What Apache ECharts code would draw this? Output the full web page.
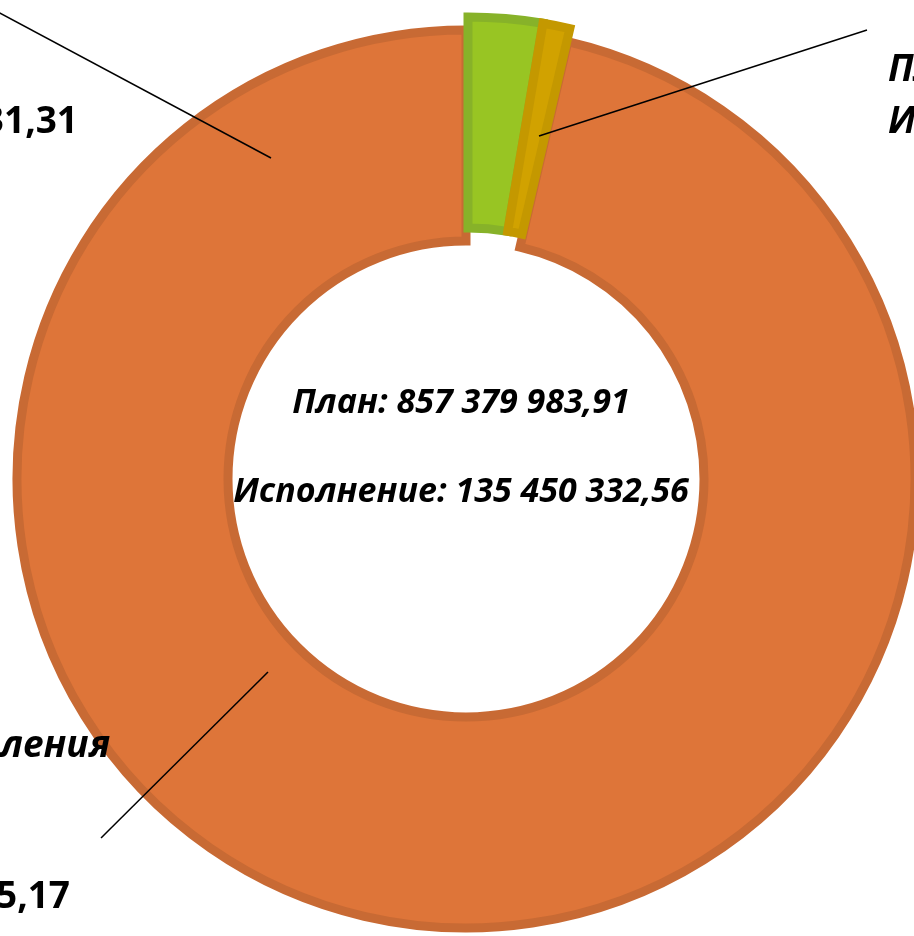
<!DOCTYPE html>
<html>
<head>
<meta charset="utf-8">
<title>План и исполнение доходов</title>
<script src="https://cdn.jsdelivr.net/npm/echarts@6/dist/echarts.min.js"></script>
<style>
html, body { margin: 0; padding: 0; background: #fff; }
#main { width: 914px; height: 936px; }
</style>
</head>
<body>
<div id="main"></div>
<script>
// данные
var categories = ['Налоговые доходы', 'Неналоговые доходы', 'Безвозмездные поступления'];
var planValues = [22895400.00, 8314600.00, 826169983.91];
var execValues = [10213231.31, 4421336.08, 120815765.17];
var showName = [false, false, true];
var exploded = [true, true, false];

var sliceColors = ['#98C523', '#D1A200', '#DE7539'];
var borderColors = ['#87B229', '#C49800', '#C86A34'];

var FAMILY = '"Open Sans", "Noto Sans", sans-serif';
var LABEL_SIZE = 37;
var CENTER_SIZE = 34;

var CENTER = [466, 479];
var RADIUS = [238, 449];
var EXPLODE = [2, -13];

// положение подписей (край последней строки, верх блока)
var labelAnchor = [
    { right: 78, top: 44, lh: 52 },
    { left: 888, top: 44, lh: 52 },
    { right: 70, top: 709, lh: 75.5 }
];
var leader = [
    [[-6, 10], [271, 158]],
    [[867, 30], [539, 136]],
    [[101, 838], [268, 672]]
];

function fmt(v) {
    var s = v.toFixed(2).split('.');
    return s[0].replace(/\B(?=(\d{3})+(?!\d))/g, ' ') + ',' + s[1];
}
function sum(arr) {
    var t = 0;
    for (var i = 0; i < arr.length; i++) t += arr[i];
    return t;
}

var ctx = document.createElement('canvas').getContext('2d');
function measure(text, font) {
    ctx.font = font;
    return ctx.measureText(text).width;
}
var italicFont = 'italic bold ' + LABEL_SIZE + 'px ' + FAMILY;
var boldFont = 'bold ' + LABEL_SIZE + 'px ' + FAMILY;
function lastLineWidth(i) {
    return measure('Исполнение: ', italicFont) + measure(fmt(execValues[i]), boldFont);
}

var hidden = { color: 'rgba(0,0,0,0)', borderColor: 'rgba(0,0,0,0)', borderWidth: 0 };

var baseData = [];     // неотодвинутые сектора
var explodedData = []; // отодвинутые сектора
var labelData = [];    // только подписи и выноски
for (var i = 0; i < categories.length; i++) {
    var style = { color: sliceColors[i], borderColor: borderColors[i] };
    baseData.push({ name: categories[i], value: planValues[i], itemStyle: exploded[i] ? hidden : style });
    explodedData.push({ name: categories[i], value: planValues[i], itemStyle: exploded[i] ? style : hidden });
    labelData.push({
        name: categories[i],
        value: planValues[i],
        itemStyle: hidden,
        label: {
            rich: {
                n: { fontStyle: 'italic', fontWeight: 'bold', fontSize: LABEL_SIZE, fontFamily: FAMILY, color: '#000', lineHeight: labelAnchor[i].lh },
                v: { fontWeight: 'bold', fontSize: LABEL_SIZE, fontFamily: FAMILY, color: '#000', lineHeight: labelAnchor[i].lh }
            }
        }
    });
}

var myChart = echarts.init(document.getElementById('main'));
var option = {
    animation: false,
    backgroundColor: '#fff',
    graphic: [
        {
            type: 'text', x: 461, y: 403,
            style: {
                text: 'План: ' + fmt(sum(planValues)),
                font: 'italic bold ' + CENTER_SIZE + 'px ' + FAMILY,
                fill: '#000', textAlign: 'center', textVerticalAlign: 'middle'
            }
        },
        {
            type: 'text', x: 461, y: 492,
            style: {
                text: 'Исполнение: ' + fmt(sum(execValues)),
                font: 'italic bold ' + CENTER_SIZE + 'px ' + FAMILY,
                fill: '#000', textAlign: 'center', textVerticalAlign: 'middle'
            }
        }
    ],
    series: [
        {
            type: 'pie',
            z: 2,
            center: CENTER,
            radius: RADIUS,
            startAngle: 90,
            silent: true,
            itemStyle: { borderWidth: 9, borderJoin: 'miter' },
            emphasis: { disabled: true },
            label: { show: false },
            labelLine: { show: false },
            data: baseData
        },
        {
            type: 'pie',
            z: 2,
            center: [CENTER[0] + EXPLODE[0], CENTER[1] + EXPLODE[1]],
            radius: RADIUS,
            startAngle: 90,
            silent: true,
            itemStyle: { borderWidth: 9, borderJoin: 'miter' },
            emphasis: { disabled: true },
            label: { show: false },
            labelLine: { show: false },
            data: explodedData
        },
        {
            type: 'pie',
            z: 3,
            center: CENTER,
            radius: RADIUS,
            startAngle: 90,
            avoidLabelOverlap: false,
            emphasis: { disabled: true },
            label: {
                show: true,
                position: 'outside',
                width: 1400,
                overflow: 'none',
                formatter: function (p) {
                    var i = p.dataIndex;
                    var lines = [];
                    if (showName[i]) lines.push('{n|' + categories[i] + '}');
                    lines.push('{n|План: }{v|' + fmt(planValues[i]) + '}');
                    lines.push('{n|Исполнение: }{v|' + fmt(execValues[i]) + '}');
                    return lines.join('\n');
                }
            },
            labelLine: {
                show: true,
                smooth: false,
                lineStyle: { color: '#000', width: 1.5 }
            },
            labelLayout: function (p) {
                var i = p.dataIndex;
                var a = labelAnchor[i];
                var x = a.left != null ? a.left : a.right - lastLineWidth(i);
                return {
                    x: x,
                    y: a.top,
                    align: 'left',
                    verticalAlign: 'top',
                    labelLinePoints: [leader[i][1], leader[i][1], leader[i][0]]
                };
            },
            data: labelData
        }
    ]
};
myChart.setOption(option);
</script>
</body>
</html>
